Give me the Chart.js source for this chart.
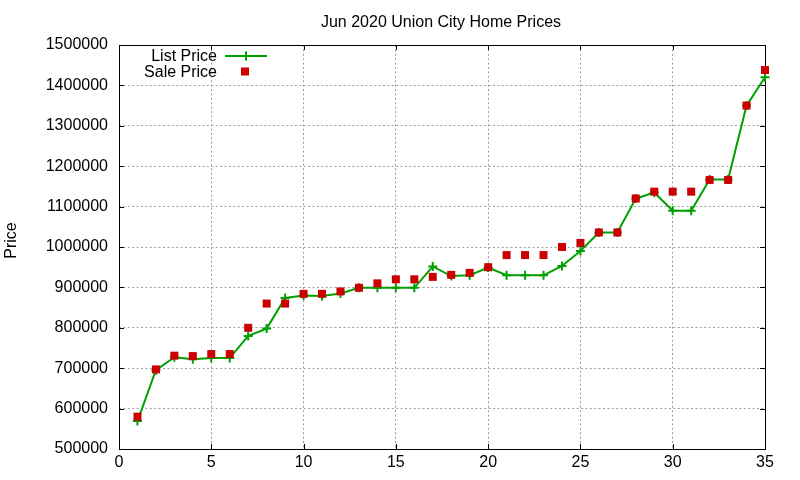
<!DOCTYPE html>
<html><head><meta charset="utf-8">
<script src="https://cdn.jsdelivr.net/npm/chart.js@4"></script>
<style>html,body{margin:0;padding:0;background:#fff}canvas{display:block}</style>
</head><body>
<canvas id="c" width="800" height="480"></canvas>
<script>
const chartTitle = 'Jun 2020 Union City Home Prices';
const yAxisTitle = 'Price';
const seriesNames = ['List Price', 'Sale Price'];
const days = [1,2,3,4,5,6,7,8,9,10,11,12,13,14,15,16,17,18,19,20,21,22,23,24,25,26,27,28,29,30,31,32,33,34,35];
const listPrices = [569000,695000,727000,722000,725000,725000,780000,798000,874000,880000,879000,885000,899000,899000,899000,899000,952000,928000,930000,949000,930000,930000,930000,953000,990000,1036000,1036000,1120000,1135000,1090000,1090000,1167000,1167000,1350000,1420000];
const salePrices = [580000,697000,731000,730000,735000,735000,800000,860000,860000,884000,884000,890000,899000,910000,920000,920000,926000,931000,936000,950000,980000,980000,980000,1000000,1010000,1036000,1036000,1120000,1137000,1137000,1137000,1166000,1166000,1350000,1438000];
const xTickValues = [0,5,10,15,20,25,30,35];
const yTickValues = [500000,600000,700000,800000,900000,1000000,1100000,1200000,1300000,1400000,1500000];

const FONT = 'Liberation Sans, Arial, sans-serif';
const GREEN = '#00a000';
const RED = '#cc0000';

const framePlugin = {
  id: 'frame',
  beforeDatasetsDraw(chart) {
    const ctx = chart.ctx, a = chart.chartArea;
    const xs = chart.scales.x, ys = chart.scales.y;
    ctx.save();
    ctx.strokeStyle = '#000';
    ctx.lineWidth = 1;
    ctx.setLineDash([]);
    ctx.beginPath();
    const L = 5;
    xTickValues.forEach(v => {
      const px = Math.round(xs.getPixelForValue(v)) + 0.5;
      ctx.moveTo(px, a.bottom); ctx.lineTo(px, a.bottom - L);
      ctx.moveTo(px, a.top); ctx.lineTo(px, a.top + L);
    });
    yTickValues.forEach(v => {
      const py = Math.round(ys.getPixelForValue(v)) + 0.5;
      ctx.moveTo(a.left, py); ctx.lineTo(a.left + L, py);
      ctx.moveTo(a.right, py); ctx.lineTo(a.right - L, py);
    });
    ctx.stroke();
    ctx.strokeRect(Math.round(a.left) + 0.5, Math.round(a.top) + 0.5, Math.round(a.right - a.left), Math.round(a.bottom - a.top));
    ctx.restore();
  },
  afterDraw(chart) {
    const ctx = chart.ctx;
    ctx.save();
    ctx.fillStyle = '#000';
    ctx.font = '16px ' + FONT;
    // title
    ctx.textAlign = 'center';
    ctx.textBaseline = 'alphabetic';
    ctx.fillText(chartTitle, 441, 26.5);
    // y axis title
    ctx.save();
    ctx.translate(16, 240.5);
    ctx.rotate(-Math.PI / 2);
    ctx.fillText(yAxisTitle, 0, 0);
    ctx.restore();
    // legend
    ctx.textAlign = 'right';
    ctx.fillText(seriesNames[0], 217, 61);
    ctx.fillText(seriesNames[1], 217, 77);
    ctx.strokeStyle = GREEN;
    ctx.lineWidth = 2;
    ctx.beginPath();
    ctx.moveTo(225, 56); ctx.lineTo(267, 56);
    ctx.moveTo(246, 51.5); ctx.lineTo(246, 60.5);
    ctx.stroke();
    ctx.fillStyle = RED;
    ctx.fillRect(241, 67.5, 8, 8);
    ctx.restore();
  }
};

new Chart(document.getElementById('c'), {
  type: 'line',
  data: {
    datasets: [
      {
        label: seriesNames[1],
        data: days.map((d, i) => ({ x: d, y: salePrices[i] })),
        showLine: false,
        pointStyle: 'rect',
        pointRadius: 5.66,
        pointBorderWidth: 0,
        pointBackgroundColor: RED,
        pointBorderColor: RED,
        backgroundColor: RED,
        borderColor: RED,
        order: 0,
        clip: false
      },
      {
        label: seriesNames[0],
        data: days.map((d, i) => ({ x: d, y: listPrices[i] })),
        borderColor: GREEN,
        borderWidth: 2,
        tension: 0,
        fill: false,
        pointStyle: 'cross',
        pointRadius: 4.5,
        pointBorderWidth: 2,
        pointBorderColor: GREEN,
        pointBackgroundColor: GREEN,
        order: 1,
        clip: false
      }
    ]
  },
  options: {
    responsive: false,
    animation: false,
    devicePixelRatio: 1,
    layout: { padding: { top: 45, right: 35, left: 0, bottom: 0 } },
    plugins: { legend: { display: false }, title: { display: false }, tooltip: { enabled: false } },
    events: [],
    scales: {
      x: {
        type: 'linear',
        min: 0, max: 35,
        afterBuildTicks: s => { s.ticks = xTickValues.map(v => ({ value: v })); },
        afterFit: s => { s.height = 31; },
        ticks: { font: { family: FONT, size: 16 }, color: '#000', padding: 4, maxRotation: 0, autoSkip: false },
        grid: { color: '#a0a0a0', lineWidth: 1, drawTicks: false },
        border: { display: false, dash: [2, 2.4] }
      },
      y: {
        type: 'linear',
        min: 500000, max: 1500000,
        afterBuildTicks: s => { s.ticks = yTickValues.map(v => ({ value: v })); },
        afterFit: s => { s.width = 119; },
        ticks: { font: { family: FONT, size: 16 }, color: '#000', padding: 11, autoSkip: false, callback: v => String(v) },
        grid: { color: '#a0a0a0', lineWidth: 1, drawTicks: false },
        border: { display: false, dash: [2, 2.4] }
      }
    }
  },
  plugins: [framePlugin]
});
</script>
</body></html>
